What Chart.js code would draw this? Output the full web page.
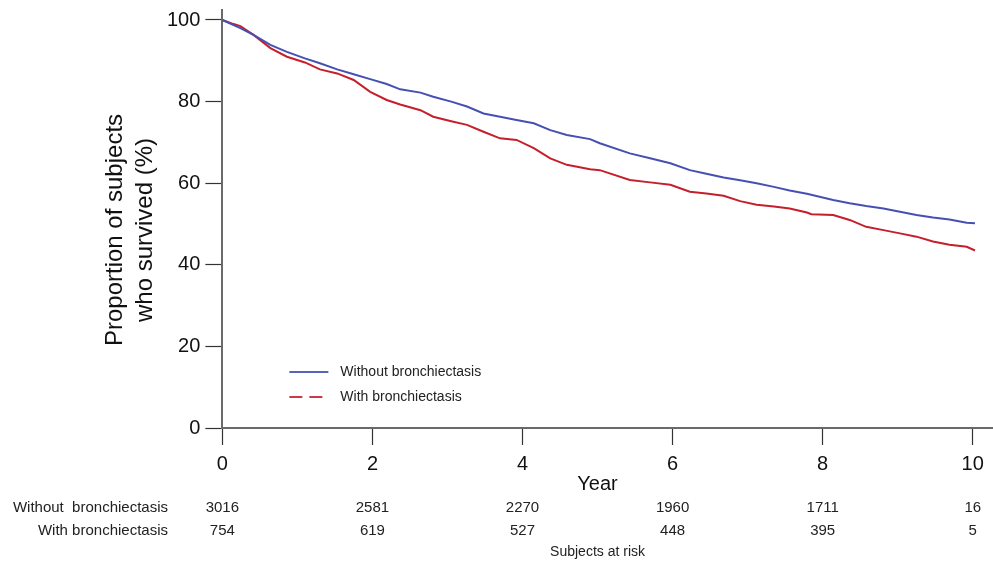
<!DOCTYPE html>
<html>
<head>
<meta charset="utf-8">
<style>
    html, body { margin: 0; padding: 0; background: #fff; }
    #wrap { width: 993px; height: 566px; position: relative; }
</style>
</head>
<body>
<div id="wrap"><canvas id="km-chart" width="993" height="566"></canvas></div>
<script src="https://cdn.jsdelivr.net/npm/chart.js"></script>
<script>
    // survival curves (years, % surviving)
    const withoutYears = [0, 0.24, 0.42, 0.64, 0.86, 1.1, 1.3, 1.53, 1.75, 1.97, 2.19, 2.37, 2.64, 2.81, 3.05, 3.26, 3.48, 3.7, 3.92, 4.15, 4.37, 4.59, 4.9, 5.03, 5.43, 5.7, 5.97, 6.23, 6.45, 6.68, 6.9, 7.12, 7.35, 7.56, 7.79, 8.14, 8.36, 8.58, 8.81, 9.03, 9.25, 9.47, 9.69, 9.92, 10.03];
    const withoutSurv = [100, 98.0, 96.3, 93.9, 92.2, 90.6, 89.4, 87.9, 86.7, 85.5, 84.3, 83.0, 82.2, 81.2, 80.0, 78.8, 77.1, 76.3, 75.5, 74.7, 73.0, 71.8, 70.8, 69.8, 67.3, 66.1, 64.9, 63.2, 62.3, 61.4, 60.7, 60.0, 59.1, 58.2, 57.4, 55.9, 55.1, 54.4, 53.8, 53.0, 52.2, 51.6, 51.1, 50.3, 50.2];
    const withYears = [0, 0.15, 0.24, 0.42, 0.64, 0.86, 1.1, 1.3, 1.53, 1.75, 1.97, 2.19, 2.37, 2.64, 2.81, 3.05, 3.26, 3.48, 3.7, 3.92, 4.15, 4.37, 4.59, 4.9, 5.03, 5.43, 5.7, 5.97, 6.23, 6.45, 6.68, 6.9, 7.12, 7.35, 7.56, 7.79, 7.85, 8.14, 8.36, 8.58, 8.81, 9.03, 9.25, 9.47, 9.69, 9.92, 10.03];
    const withSurv = [100, 99.0, 98.5, 96.3, 93.1, 91.0, 89.6, 87.9, 86.9, 85.3, 82.4, 80.4, 79.3, 77.9, 76.3, 75.2, 74.3, 72.6, 71.0, 70.6, 68.6, 66.1, 64.5, 63.4, 63.2, 60.8, 60.2, 59.6, 57.9, 57.5, 56.9, 55.6, 54.7, 54.3, 53.8, 52.8, 52.4, 52.2, 51.0, 49.3, 48.5, 47.7, 46.9, 45.7, 44.9, 44.4, 43.5];

    const xTicks = [0, 2, 4, 6, 8, 10];
    const yTicks = [0, 20, 40, 60, 80, 100];

    // subjects at risk table
    const riskYears = [0, 2, 4, 6, 8, 10];
    const riskWithout = [3016, 2581, 2270, 1960, 1711, 16];
    const riskWith = [754, 619, 527, 448, 395, 5];

    const seriesNames = ['Without bronchiectasis', 'With bronchiectasis'];
    const riskRowNames = ['Without  bronchiectasis', 'With bronchiectasis'];
    const yTitle = ['Proportion of subjects', 'who survived (%)'];

    const BLUE = '#4650b2';
    const RED = '#c61f2c';
    const FONT = '"Liberation Sans", Arial, sans-serif';

    function toPoints(xs, ys) {
        return xs.map((x, i) => ({ x: x, y: ys[i] }));
    }

    // legend, axis titles and at-risk rows drawn on the canvas
    const extrasPlugin = {
        id: 'kmExtras',
        afterDraw(chart) {
            const ctx = chart.ctx;
            const xs = chart.scales.x;
            const area = chart.chartArea;
            ctx.save();

            // legend inside plot
            const lx = area.left + 67, ly1 = 372, ly2 = 397;
            ctx.lineWidth = 2;
            ctx.strokeStyle = '#5a63bb';
            ctx.beginPath(); ctx.moveTo(lx, ly1); ctx.lineTo(lx + 39, ly1); ctx.stroke();
            ctx.strokeStyle = '#cc3a45';
            ctx.setLineDash([13, 7]);
            ctx.beginPath(); ctx.moveTo(lx, ly2); ctx.lineTo(lx + 39, ly2); ctx.stroke();
            ctx.setLineDash([]);
            ctx.fillStyle = '#222';
            ctx.font = '14px ' + FONT;
            ctx.textBaseline = 'middle';
            ctx.textAlign = 'left';
            ctx.fillText(seriesNames[0], lx + 51, ly1);
            ctx.fillText(seriesNames[1], lx + 51, ly2);

            // axis titles
            ctx.fillStyle = '#111';
            ctx.textAlign = 'center';
            ctx.font = '20px ' + FONT;
            ctx.fillText('Year', xs.getPixelForValue(5), 484);
            ctx.save();
            ctx.translate(115, 230);
            ctx.rotate(-Math.PI / 2);
            ctx.font = '24px ' + FONT;
            ctx.fillText(yTitle[0], 0, 0);
            ctx.fillText(yTitle[1], 0, 30);
            ctx.restore();

            // subjects at risk
            ctx.fillStyle = '#222';
            ctx.font = '15px ' + FONT;
            ctx.textAlign = 'right';
            ctx.fillText(riskRowNames[0], 168, 508);
            ctx.fillText(riskRowNames[1], 168, 531);
            ctx.textAlign = 'center';
            riskYears.forEach((yr, i) => {
                const px = xs.getPixelForValue(yr);
                ctx.fillText(String(riskWithout[i]), px, 508);
                ctx.fillText(String(riskWith[i]), px, 531);
            });
            ctx.font = '14px ' + FONT;
            ctx.fillText('Subjects at risk', xs.getPixelForValue(5), 552);
            ctx.restore();
        }
    };

    const chart = new Chart(document.getElementById('km-chart'), {
        type: 'line',
        data: {
            datasets: [
                { label: seriesNames[0], data: toPoints(withoutYears, withoutSurv), borderColor: BLUE, borderWidth: 2, pointRadius: 0, tension: 0 },
                { label: seriesNames[1], data: toPoints(withYears, withSurv), borderColor: RED, borderWidth: 2, pointRadius: 0, tension: 0 }
            ]
        },
        options: {
            responsive: false,
            animation: false,
            layout: { padding: { left: 162, top: 10, right: 0, bottom: 83 } },
            plugins: { legend: { display: false }, tooltip: { enabled: false } },
            scales: {
                x: {
                    type: 'linear',
                    min: 0,
                    max: 10.27,
                    afterBuildTicks: (s) => { s.ticks = xTicks.map(v => ({ value: v })); },
                    border: { display: true, color: '#6a6a6a', width: 2 },
                    grid: { drawOnChartArea: false, drawTicks: true, tickLength: 17, tickColor: '#333', tickWidth: 1.2 },
                    ticks: { padding: 7, color: '#111', font: { size: 20, family: FONT }, maxRotation: 0 }
                },
                y: {
                    min: 0,
                    max: 102.45,
                    afterBuildTicks: (s) => { s.ticks = yTicks.map(v => ({ value: v })); },
                    border: { display: true, color: '#6a6a6a', width: 2 },
                    grid: { drawOnChartArea: false, drawTicks: true, tickLength: 17, tickColor: '#333', tickWidth: 1.2 },
                    ticks: { padding: 5, color: '#111', font: { size: 20, family: FONT, lineHeight: 0.3 } }
                }
            }
        },
        plugins: [extrasPlugin]
    });
</script>
</body>
</html>
